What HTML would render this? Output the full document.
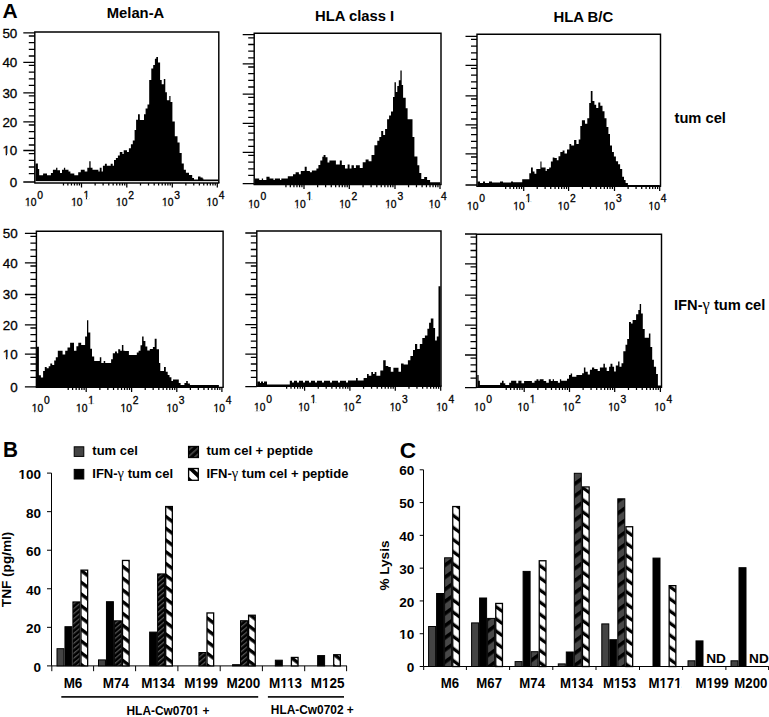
<!DOCTYPE html>
<html><head><meta charset="utf-8"><title>Figure</title>
<style>
html,body{margin:0;padding:0;background:#fff;}
body{width:769px;height:717px;overflow:hidden;font-family:"Liberation Sans",sans-serif;}
svg{display:block;}
text{font-family:"Liberation Sans",sans-serif;}
</style></head><body>
<svg width="769" height="717" viewBox="0 0 769 717">
<rect width="769" height="717" fill="#fff"/>
<polygon points="35.5,181 35.5,163.5 37.9,163.5 37.9,169 39.2,169 39.2,175.3 43.1,175.3 43.1,173.6 47,173.6 47,175.3 50.9,175.3 50.9,172.9 52.9,172.9 52.9,169.7 56.1,169.7 56.1,167.7 57.4,167.7 57.4,170.3 60,170.3 60,172.9 62,172.9 62,169.7 63.9,169.7 63.9,167.7 65.2,167.7 65.2,169.7 68.5,169.7 68.5,171.6 70.4,171.6 70.4,173.6 74.3,173.6 74.3,175.3 78.2,175.3 78.2,172.3 80.8,172.3 80.8,169.7 84.7,169.7 84.7,171.6 87.3,171.6 87.3,167.7 89.3,167.7 89.3,161.2 90.6,161.2 90.6,167.7 92.5,167.7 92.5,169.7 98.4,169.7 98.4,171.6 99.7,171.6 99.7,167.7 101.6,167.7 101.6,171.6 102.9,171.6 102.9,165.8 104.9,165.8 104.9,163.8 106.8,163.8 106.8,165.8 110.7,165.8 110.7,163.8 112.7,163.8 112.7,165.8 114,165.8 114,159.9 115.9,159.9 115.9,158 117.9,158 117.9,155.4 119.8,155.4 119.8,152.1 122.4,152.1 122.4,154.1 123.7,154.1 123.7,150.2 127,150.2 127,152.1 128.9,152.1 128.9,148.2 130.9,148.2 130.9,144.3 132.8,144.3 132.8,140.4 134.6,140.4 134.6,130 136.1,130 136.1,119.8 138,119.8 138,114.2 139.8,114.2 139.8,120.1 144,120.1 144,114.2 145.6,114.2 145.6,108.6 147.5,108.6 147.5,104.4 149.2,104.4 149.2,80.1 151.3,80.1 151.3,68.4 153.2,68.4 153.2,65.1 154.9,65.1 154.9,58.8 156.3,58.8 156.3,57.1 158,57.1 158,62.6 160.1,62.6 160.1,80.1 161.7,80.1 161.7,84.3 163.8,84.3 163.8,78.9 165.3,78.9 165.3,92.3 166.9,92.3 166.9,100.2 169.3,100.2 169.3,96 170.5,96 170.5,101.9 172.4,101.9 172.4,121.6 174.8,121.6 174.8,136.2 177.5,136.2 177.5,142.5 179.6,142.5 179.6,153 181.7,153 181.7,163.4 183.8,163.4 183.8,169.7 185.9,169.7 185.9,172.8 189,172.8 189,175 192.2,175 192.2,178 194,178 194,179.5 198,179.5 198,176.5 200.5,176.5 200.5,177.5 202.6,177.5 202.6,178.5 203.4,178.5 203.4,179.5 218.2,179.5 218.2,181" fill="#000"/>
<rect x="35.4" y="181" width="182.8" height="1" fill="#ddd"/>
<path d="M34.8 183V32H218.8V183" fill="none" stroke="#000" stroke-width="1.45"/>
<path d="M34.2 183H219.4" fill="none" stroke="#000" stroke-width="1.4"/>
<path d="M23.3 32.9H34.8M28.8 36H34.8M28.8 42.7H34.8M28.8 49.4H34.8M28.8 56H34.8M23.3 62.3H34.8M28.8 65.4H34.8M28.8 72.1H34.8M28.8 78.8H34.8M28.8 85.4H34.8M23.3 92.8H34.8M28.8 95.9H34.8M28.8 102.6H34.8M28.8 109.3H34.8M28.8 115.9H34.8M23.3 121.9H34.8M28.8 125H34.8M28.8 131.7H34.8M28.8 138.4H34.8M28.8 145H34.8M23.3 150.5H34.8M28.8 153.6H34.8M28.8 160.3H34.8M28.8 167H34.8M28.8 173.6H34.8M23.3 182H34.8" stroke="#000" stroke-width="1.3"/>
<path d="M63.47 183V185.6M67.86 183V185.6M71.45 183V185.6M74.48 183V185.6M77.11 183V185.6M79.43 183V185.6M81.5 183V187.5M95.14 183V185.6M103.11 183V185.6M108.77 183V185.6M113.16 183V185.6M116.75 183V185.6M119.78 183V185.6M122.41 183V185.6M124.73 183V185.6M126.8 183V187.5M140.5 183V185.6M148.51 183V185.6M154.19 183V185.6M158.6 183V185.6M162.21 183V185.6M165.25 183V185.6M167.89 183V185.6M170.22 183V185.6M172.3 183V187.5M185.85 183V185.6M193.77 183V185.6M199.39 183V185.6M203.75 183V185.6M207.32 183V185.6M210.33 183V185.6M212.94 183V185.6M215.24 183V185.6M217.3 183V187.5" stroke="#000" stroke-width="1.25"/>
<text x="36.5" y="206.3" font-size="10.3" text-anchor="end" stroke="#000" stroke-width="0.3" font-family="Liberation Sans, sans-serif">10</text>
<text x="37.3" y="198.5" font-size="10.3" stroke="#000" stroke-width="0.3" font-family="Liberation Sans, sans-serif">0</text>
<text x="82.6" y="206.3" font-size="10.3" text-anchor="end" stroke="#000" stroke-width="0.3" font-family="Liberation Sans, sans-serif">10</text>
<text x="83.4" y="198.5" font-size="10.3" stroke="#000" stroke-width="0.3" font-family="Liberation Sans, sans-serif">1</text>
<text x="127.5" y="206.3" font-size="10.3" text-anchor="end" stroke="#000" stroke-width="0.3" font-family="Liberation Sans, sans-serif">10</text>
<text x="128.3" y="198.5" font-size="10.3" stroke="#000" stroke-width="0.3" font-family="Liberation Sans, sans-serif">2</text>
<text x="173.5" y="206.3" font-size="10.3" text-anchor="end" stroke="#000" stroke-width="0.3" font-family="Liberation Sans, sans-serif">10</text>
<text x="174.3" y="198.5" font-size="10.3" stroke="#000" stroke-width="0.3" font-family="Liberation Sans, sans-serif">3</text>
<text x="218" y="206.3" font-size="10.3" text-anchor="end" stroke="#000" stroke-width="0.3" font-family="Liberation Sans, sans-serif">10</text>
<text x="218.8" y="198.5" font-size="10.3" stroke="#000" stroke-width="0.3" font-family="Liberation Sans, sans-serif">4</text>
<text x="17.3" y="37.7" font-size="13.4" text-anchor="end" stroke="#000" stroke-width="0.3" font-family="Liberation Sans, sans-serif">50</text>
<text x="17.3" y="67.1" font-size="13.4" text-anchor="end" stroke="#000" stroke-width="0.3" font-family="Liberation Sans, sans-serif">40</text>
<text x="17.3" y="97.6" font-size="13.4" text-anchor="end" stroke="#000" stroke-width="0.3" font-family="Liberation Sans, sans-serif">30</text>
<text x="17.3" y="126.7" font-size="13.4" text-anchor="end" stroke="#000" stroke-width="0.3" font-family="Liberation Sans, sans-serif">20</text>
<text x="17.3" y="155.3" font-size="13.4" text-anchor="end" stroke="#000" stroke-width="0.3" font-family="Liberation Sans, sans-serif">10</text>
<text x="17.3" y="186.8" font-size="13.4" text-anchor="end" stroke="#000" stroke-width="0.3" font-family="Liberation Sans, sans-serif">0</text>
<polygon points="255,184.6 255,178.4 259.2,178.4 259.2,180 261.8,180 261.8,178.4 263.1,178.4 263.1,180 266.4,180 266.4,176.8 269.6,176.8 269.6,178.4 273.5,178.4 273.5,180 274.8,180 274.8,178.4 280,178.4 280,180 281.3,180 281.3,178.4 287.8,178.4 287.8,176.2 293,176.2 293,174.2 295.6,174.2 295.6,172.3 298.9,172.3 298.9,174.2 300.8,174.2 300.8,171 304.7,171 304.7,166.7 306.7,166.7 306.7,171 309.9,171 309.9,172.3 311.9,172.3 311.9,170.6 316.4,170.6 316.4,168.4 318.4,168.4 318.4,164.9 320.3,164.9 320.3,160.6 322.3,160.6 322.3,156.7 323.6,156.7 323.6,155 325.5,155 325.5,157.3 327.5,157.3 327.5,162.5 329.4,162.5 329.4,160.6 335.9,160.6 335.9,164.5 339.8,164.5 339.8,160.6 341.8,160.6 341.8,164.9 345,164.9 345,168.4 347.6,168.4 347.6,164.5 349.6,164.5 349.6,168.4 351.5,168.4 351.5,165.2 353.9,165.2 353.9,168.1 355.9,168.1 355.9,165.2 359.8,165.2 359.8,168.1 362.7,168.1 362.7,162.3 365.6,162.3 365.6,159.4 368.6,159.4 368.6,161.3 371.5,161.3 371.5,155.1 374.4,155.1 374.4,145.3 377.3,145.3 377.3,140.8 379.3,140.8 379.3,136.9 381.2,136.9 381.2,131 383.2,131 383.2,134.9 385.1,134.9 385.1,129.1 387.1,129.1 387.1,119.3 389.1,119.3 389.1,115.4 391,115.4 391,111.5 393,111.5 393,96.9 394.5,96.9 394.5,82.2 395.9,82.2 395.9,92 397.3,92 397.3,86.1 398.8,86.1 398.8,80.3 400.4,80.3 400.4,70.5 401.7,70.5 401.7,85.1 403.1,85.1 403.1,97.8 405.7,97.8 405.7,108.2 407.6,108.2 407.6,119.3 412.5,119.3 412.5,136.9 414.4,136.9 414.4,156.4 417.4,156.4 417.4,165.2 419.3,165.2 419.3,173 421.3,173 421.3,178.9 424.2,178.9 424.2,176.9 427.1,176.9 427.1,179.9 430.1,179.9 430.1,182.3 440.3,182.3 440.3,184.6" fill="#000"/>
<path d="M254.2 184.6V33.2H441V184.6" fill="none" stroke="#000" stroke-width="1.45"/>
<path d="M253.6 184.6H441.6" fill="none" stroke="#000" stroke-width="1.4"/>
<path d="M242.7 34.7H254.2M248.2 37.8H254.2M248.2 44.5H254.2M248.2 51.2H254.2M248.2 57.8H254.2M242.7 63.9H254.2M248.2 67H254.2M248.2 73.7H254.2M248.2 80.4H254.2M248.2 87H254.2M242.7 94.2H254.2M248.2 97.3H254.2M248.2 104H254.2M248.2 110.7H254.2M248.2 117.3H254.2M242.7 123.3H254.2M248.2 126.4H254.2M248.2 133.1H254.2M248.2 139.8H254.2M248.2 146.4H254.2M242.7 152.3H254.2M248.2 155.4H254.2M248.2 162.1H254.2M248.2 168.8H254.2M248.2 175.4H254.2M242.7 183.6H254.2" stroke="#000" stroke-width="1.3"/>
<path d="M285.93 184.6V187.2M290.33 184.6V187.2M293.93 184.6V187.2M296.97 184.6V187.2M299.6 184.6V187.2M301.92 184.6V187.2M304 184.6V189.1M317.64 184.6V187.2M325.61 184.6V187.2M331.27 184.6V187.2M335.66 184.6V187.2M339.25 184.6V187.2M342.28 184.6V187.2M344.91 184.6V187.2M347.23 184.6V187.2M349.3 184.6V189.1M363.06 184.6V187.2M371.1 184.6V187.2M376.81 184.6V187.2M381.24 184.6V187.2M384.86 184.6V187.2M387.92 184.6V187.2M390.57 184.6V187.2M392.91 184.6V187.2M395 184.6V189.1M408.55 184.6V187.2M416.47 184.6V187.2M422.09 184.6V187.2M426.45 184.6V187.2M430.02 184.6V187.2M433.03 184.6V187.2M435.64 184.6V187.2M437.94 184.6V187.2M440 184.6V189.1" stroke="#000" stroke-width="1.25"/>
<text x="259.6" y="207.5" font-size="10.3" text-anchor="end" stroke="#000" stroke-width="0.3" font-family="Liberation Sans, sans-serif">10</text>
<text x="260.4" y="200.3" font-size="10.3" stroke="#000" stroke-width="0.3" font-family="Liberation Sans, sans-serif">0</text>
<text x="305.7" y="207.5" font-size="10.3" text-anchor="end" stroke="#000" stroke-width="0.3" font-family="Liberation Sans, sans-serif">10</text>
<text x="306.5" y="200.3" font-size="10.3" stroke="#000" stroke-width="0.3" font-family="Liberation Sans, sans-serif">1</text>
<text x="350.6" y="207.5" font-size="10.3" text-anchor="end" stroke="#000" stroke-width="0.3" font-family="Liberation Sans, sans-serif">10</text>
<text x="351.4" y="200.3" font-size="10.3" stroke="#000" stroke-width="0.3" font-family="Liberation Sans, sans-serif">2</text>
<text x="396.6" y="207.5" font-size="10.3" text-anchor="end" stroke="#000" stroke-width="0.3" font-family="Liberation Sans, sans-serif">10</text>
<text x="397.4" y="200.3" font-size="10.3" stroke="#000" stroke-width="0.3" font-family="Liberation Sans, sans-serif">3</text>
<text x="440.3" y="207.5" font-size="10.3" text-anchor="end" stroke="#000" stroke-width="0.3" font-family="Liberation Sans, sans-serif">10</text>
<text x="441.1" y="200.3" font-size="10.3" stroke="#000" stroke-width="0.3" font-family="Liberation Sans, sans-serif">4</text>
<polygon points="477.5,186.4 477.5,181.5 480,181.5 480,183 483,183 483,181.5 485,181.5 485,183 489,183 489,181.5 492,181.5 492,182.6 500,182.6 500,181.5 503,181.5 503,182.6 511,182.6 511,181.5 513,181.5 513,182.3 522.2,182.3 522.2,179.3 529.3,179.3 529.3,173.2 531,173.2 531,167.4 532.8,167.4 532.8,171.4 534.5,171.4 534.5,173.8 536.3,173.8 536.3,169.1 540.4,169.1 540.4,161.5 541.5,161.5 541.5,167.4 545.6,167.4 545.6,170.9 546.8,170.9 546.8,169.1 549.2,169.1 549.2,167.4 550.9,167.4 550.9,161.5 552.7,161.5 552.7,157.4 554.4,157.4 554.4,158 556.8,158 556.8,160.3 558.5,160.3 558.5,156.2 560.3,156.2 560.3,152.1 562.6,152.1 562.6,150.4 564.5,150.4 564.5,153.4 567,153.4 567,149.5 569.4,149.5 569.4,144 571.2,144 571.2,145.6 574.1,145.6 574.1,140.1 576.4,140.1 576.4,144 578.7,144 578.7,139.4 580.3,139.4 580.3,126.1 581.9,126.1 581.9,120.3 585,120.3 585,123.7 587.3,123.7 587.3,118.3 589.2,118.3 589.2,103.1 590.8,103.1 590.8,90.9 592.5,90.9 592.5,101.1 594.4,101.1 594.4,104.7 596.2,104.7 596.2,108.1 598.3,108.1 598.3,102.6 600.3,102.6 600.3,105.8 602.5,105.8 602.5,111.2 604.5,111.2 604.5,118.3 606.5,118.3 606.5,126.9 608.4,126.9 608.4,133.9 610,133.9 610,145.6 612,145.6 612,151.9 613.9,151.9 613.9,156.5 615.9,156.5 615.9,161.2 618.1,161.2 618.1,164.3 620.1,164.3 620.1,169 622.2,169 622.2,176.8 624,176.8 624,180 625.6,180 625.6,183.1 627.9,183.1 627.9,185 659.8,185 659.8,186.4" fill="#000"/>
<path d="M477 186.4V34.2H660.5V186.4" fill="none" stroke="#000" stroke-width="1.45"/>
<path d="M476.4 186.4H661.1" fill="none" stroke="#000" stroke-width="1.4"/>
<path d="M465.5 36.3H477M471 39.4H477M471 46.1H477M471 52.8H477M471 59.4H477M465.5 65.3H477M471 68.4H477M471 75.1H477M471 81.8H477M471 88.4H477M465.5 95.9H477M471 99H477M471 105.7H477M471 112.4H477M471 119H477M465.5 124.8H477M471 127.9H477M471 134.6H477M471 141.3H477M471 147.9H477M465.5 153.9H477M471 157H477M471 163.7H477M471 170.4H477M471 177H477M465.5 185H477" stroke="#000" stroke-width="1.3"/>
<path d="M505.67 186.4V189M510.06 186.4V189M513.65 186.4V189M516.68 186.4V189M519.31 186.4V189M521.63 186.4V189M523.7 186.4V190.9M537.22 186.4V189M545.12 186.4V189M550.73 186.4V189M555.08 186.4V189M558.64 186.4V189M561.64 186.4V189M564.25 186.4V189M566.55 186.4V189M568.6 186.4V190.9M582.42 186.4V189M590.5 186.4V189M596.23 186.4V189M600.68 186.4V189M604.32 186.4V189M607.39 186.4V189M610.05 186.4V189M612.4 186.4V189M614.5 186.4V190.9M628.11 186.4V189M636.07 186.4V189M641.71 186.4V189M646.09 186.4V189M649.67 186.4V189M652.7 186.4V189M655.32 186.4V189M657.63 186.4V189M659.7 186.4V190.9" stroke="#000" stroke-width="1.25"/>
<text x="478.5" y="210" font-size="10.3" text-anchor="end" stroke="#000" stroke-width="0.3" font-family="Liberation Sans, sans-serif">10</text>
<text x="479.3" y="202.3" font-size="10.3" stroke="#000" stroke-width="0.3" font-family="Liberation Sans, sans-serif">0</text>
<text x="524.7" y="210" font-size="10.3" text-anchor="end" stroke="#000" stroke-width="0.3" font-family="Liberation Sans, sans-serif">10</text>
<text x="525.5" y="202.3" font-size="10.3" stroke="#000" stroke-width="0.3" font-family="Liberation Sans, sans-serif">1</text>
<text x="569.3" y="210" font-size="10.3" text-anchor="end" stroke="#000" stroke-width="0.3" font-family="Liberation Sans, sans-serif">10</text>
<text x="570.1" y="202.3" font-size="10.3" stroke="#000" stroke-width="0.3" font-family="Liberation Sans, sans-serif">2</text>
<text x="615.1" y="210" font-size="10.3" text-anchor="end" stroke="#000" stroke-width="0.3" font-family="Liberation Sans, sans-serif">10</text>
<text x="615.9" y="202.3" font-size="10.3" stroke="#000" stroke-width="0.3" font-family="Liberation Sans, sans-serif">3</text>
<text x="660" y="210" font-size="10.3" text-anchor="end" stroke="#000" stroke-width="0.3" font-family="Liberation Sans, sans-serif">10</text>
<text x="660.8" y="202.3" font-size="10.3" stroke="#000" stroke-width="0.3" font-family="Liberation Sans, sans-serif">4</text>
<polygon points="37,387.4 37,346.8 38.9,346.8 38.9,375.2 40.9,375.2 40.9,377.4 43.1,377.4 43.1,370.9 44.8,370.9 44.8,367 46.7,367 46.7,368.3 48.7,368.3 48.7,366.3 50.3,366.3 50.3,363.5 52.2,363.5 52.2,365 54.2,365 54.2,360.5 55.8,360.5 55.8,357.2 57.8,357.2 57.8,350.7 62.6,350.7 62.6,354.6 65.2,354.6 65.2,350.7 67.5,350.7 67.5,347.5 70.1,347.5 70.1,342.7 74,342.7 74,350.7 76.4,350.7 76.4,346.2 78.3,346.2 78.3,342.7 81.2,342.7 81.2,344.9 85.1,344.9 85.1,336.4 87,336.4 87,320.2 88.3,320.2 88.3,332.5 90.3,332.5 90.3,348.8 92,348.8 92,356.6 94.2,356.6 94.2,360.9 99.8,360.9 99.8,357.2 101.3,357.2 101.3,363.1 103.7,363.1 103.7,361.1 105.2,361.1 105.2,363.1 111.1,363.1 111.1,359.2 112.8,359.2 112.8,353.3 115,353.3 115,351.4 116.9,351.4 116.9,353.3 118.2,353.3 118.2,349.2 120.2,349.2 120.2,350.7 121.9,350.7 121.9,344.9 123.4,344.9 123.4,350.7 124.7,350.7 124.7,351 128.9,351 128.9,355.1 136.8,355.1 136.8,352.6 138.6,352.6 138.6,350.8 140.5,350.8 140.5,345.2 142.1,345.2 142.1,336.6 143.6,336.6 143.6,340.9 145.4,340.9 145.4,346.4 147.3,346.4 147.3,350.5 149.8,350.5 149.8,348.9 152.9,348.9 152.9,347.1 154.7,347.1 154.7,338.7 156.6,338.7 156.6,349.3 159,349.3 159,363.1 160.3,363.1 160.3,371.1 164,371.1 164,367.1 165.8,367.1 165.8,371.8 167.7,371.8 167.7,374.9 169.5,374.9 169.5,377.3 171.4,377.3 171.4,381 173,381 173,379.4 178.8,379.4 178.8,382.9 180.6,382.9 180.6,385.1 184.4,385.1 184.4,382.9 186.2,382.9 186.2,381 187.8,381 187.8,383.5 189.9,383.5 189.9,385.1 218.9,385.1 218.9,387.4" fill="#000"/>
<path d="M36.4 387.4V231.3H223.1V387.4" fill="none" stroke="#000" stroke-width="1.45"/>
<path d="M35.8 387.4H223.7" fill="none" stroke="#000" stroke-width="1.4"/>
<path d="M24.9 233.3H36.4M30.4 236.4H36.4M30.4 243.1H36.4M30.4 249.8H36.4M30.4 256.4H36.4M24.9 262.9H36.4M30.4 266H36.4M30.4 272.7H36.4M30.4 279.4H36.4M30.4 286H36.4M24.9 294.5H36.4M30.4 297.6H36.4M30.4 304.3H36.4M30.4 311H36.4M30.4 317.6H36.4M24.9 324.9H36.4M30.4 328H36.4M30.4 334.7H36.4M30.4 341.4H36.4M30.4 348H36.4M24.9 354.2H36.4M30.4 357.3H36.4M30.4 364H36.4M30.4 370.7H36.4M30.4 377.3H36.4M24.9 386.9H36.4" stroke="#000" stroke-width="1.3"/>
<path d="M68.21 387.4V390M72.59 387.4V390M76.17 387.4V390M79.2 387.4V390M81.82 387.4V390M84.13 387.4V390M86.2 387.4V391.9M99.87 387.4V390M107.86 387.4V390M113.53 387.4V390M117.93 387.4V390M121.53 387.4V390M124.57 387.4V390M127.2 387.4V390M129.52 387.4V390M131.6 387.4V391.9M145.21 387.4V390M153.17 387.4V390M158.81 387.4V390M163.19 387.4V390M166.77 387.4V390M169.8 387.4V390M172.42 387.4V390M174.73 387.4V390M176.8 387.4V391.9M190.38 387.4V390M198.32 387.4V390M203.95 387.4V390M208.32 387.4V390M211.89 387.4V390M214.91 387.4V390M217.53 387.4V390M219.84 387.4V390M221.9 387.4V391.9" stroke="#000" stroke-width="1.25"/>
<text x="43.2" y="412.2" font-size="10.3" text-anchor="end" stroke="#000" stroke-width="0.3" font-family="Liberation Sans, sans-serif">10</text>
<text x="44" y="404.4" font-size="10.3" stroke="#000" stroke-width="0.3" font-family="Liberation Sans, sans-serif">0</text>
<text x="87.4" y="412.2" font-size="10.3" text-anchor="end" stroke="#000" stroke-width="0.3" font-family="Liberation Sans, sans-serif">10</text>
<text x="88.2" y="404.4" font-size="10.3" stroke="#000" stroke-width="0.3" font-family="Liberation Sans, sans-serif">1</text>
<text x="132" y="412.2" font-size="10.3" text-anchor="end" stroke="#000" stroke-width="0.3" font-family="Liberation Sans, sans-serif">10</text>
<text x="132.8" y="404.4" font-size="10.3" stroke="#000" stroke-width="0.3" font-family="Liberation Sans, sans-serif">2</text>
<text x="178" y="412.2" font-size="10.3" text-anchor="end" stroke="#000" stroke-width="0.3" font-family="Liberation Sans, sans-serif">10</text>
<text x="178.8" y="404.4" font-size="10.3" stroke="#000" stroke-width="0.3" font-family="Liberation Sans, sans-serif">3</text>
<text x="224.9" y="412.2" font-size="10.3" text-anchor="end" stroke="#000" stroke-width="0.3" font-family="Liberation Sans, sans-serif">10</text>
<text x="225.7" y="404.4" font-size="10.3" stroke="#000" stroke-width="0.3" font-family="Liberation Sans, sans-serif">4</text>
<text x="17.6" y="238.1" font-size="13.4" text-anchor="end" stroke="#000" stroke-width="0.3" font-family="Liberation Sans, sans-serif">50</text>
<text x="17.6" y="267.7" font-size="13.4" text-anchor="end" stroke="#000" stroke-width="0.3" font-family="Liberation Sans, sans-serif">40</text>
<text x="17.6" y="299.3" font-size="13.4" text-anchor="end" stroke="#000" stroke-width="0.3" font-family="Liberation Sans, sans-serif">30</text>
<text x="17.6" y="329.7" font-size="13.4" text-anchor="end" stroke="#000" stroke-width="0.3" font-family="Liberation Sans, sans-serif">20</text>
<text x="17.6" y="359" font-size="13.4" text-anchor="end" stroke="#000" stroke-width="0.3" font-family="Liberation Sans, sans-serif">10</text>
<text x="17.6" y="391.7" font-size="13.4" text-anchor="end" stroke="#000" stroke-width="0.3" font-family="Liberation Sans, sans-serif">0</text>
<polygon points="257.3,386.2 257.3,381.4 260,381.4 260,383 261,383 261,381.4 263,381.4 263,383 264,383 264,381.4 267,381.4 267,384.5 289.8,384.5 289.8,380.7 292,380.7 292,382.5 294,382.5 294,380.7 297,380.7 297,382.5 299,382.5 299,380.7 303,380.7 303,382.5 305,382.5 305,380.7 309,380.7 309,382.5 311,382.5 311,380.7 315,380.7 315,382.5 317,382.5 317,380.7 322,380.7 322,382.5 324,382.5 324,380.7 330,380.7 330,382.5 332,382.5 332,380.7 338,380.7 338,382.5 340,382.5 340,380.7 346,380.7 346,382.5 348,382.5 348,380.6 356,380.6 356,378 357.7,378 357.7,380.6 363.6,380.6 363.6,378 367,378 367,374.1 368.7,374.1 368.7,375.8 371.3,375.8 371.3,372.1 373,372.1 373,374.1 374.7,374.1 374.7,372.1 376.4,372.1 376.4,375.8 380.3,375.8 380.3,370.4 383.2,370.4 383.2,360.2 385.7,360.2 385.7,366.1 388.3,366.1 388.3,367 390.8,367 390.8,371.8 393.4,371.8 393.4,367.8 398.5,367.8 398.5,371.8 401,371.8 401,363.6 403.6,363.6 403.6,364.4 407.9,364.4 407.9,360.2 410.4,360.2 410.4,355.9 413,355.9 413,350 415,350 415,344 417.2,344 417.2,349.1 419.8,349.1 419.8,344 422.3,344 422.3,338.1 424.9,338.1 424.9,335.5 427.4,335.5 427.4,328.7 429.1,328.7 429.1,322.7 430.8,322.7 430.8,318.5 433.4,318.5 433.4,327.9 435.1,327.9 435.1,340.6 436.8,340.6 436.8,336.4 438.5,336.4 438.5,286.2 440.5,286.2 440.5,386.2" fill="#000"/>
<path d="M256.8 386.2V231H441V386.2" fill="none" stroke="#000" stroke-width="1.45"/>
<path d="M256.2 386.2H441.6" fill="none" stroke="#000" stroke-width="1.4"/>
<path d="M245.3 233H256.8M250.8 236.1H256.8M250.8 242.8H256.8M250.8 249.5H256.8M250.8 256.1H256.8M245.3 262.9H256.8M250.8 266H256.8M250.8 272.7H256.8M250.8 279.4H256.8M250.8 286H256.8M245.3 294.5H256.8M250.8 297.6H256.8M250.8 304.3H256.8M250.8 311H256.8M250.8 317.6H256.8M245.3 324.6H256.8M250.8 327.7H256.8M250.8 334.4H256.8M250.8 341.1H256.8M250.8 347.7H256.8M245.3 354.2H256.8M250.8 357.3H256.8M250.8 364H256.8M250.8 370.7H256.8M250.8 377.3H256.8M245.3 386.7H256.8" stroke="#000" stroke-width="1.3"/>
<path d="M286.65 386.2V388.8M291.02 386.2V388.8M294.59 386.2V388.8M297.61 386.2V388.8M300.23 386.2V388.8M302.54 386.2V388.8M304.6 386.2V390.7M318.24 386.2V388.8M326.21 386.2V388.8M331.87 386.2V388.8M336.26 386.2V388.8M339.85 386.2V388.8M342.88 386.2V388.8M345.51 386.2V388.8M347.83 386.2V388.8M349.9 386.2V390.7M363.57 386.2V388.8M371.56 386.2V388.8M377.23 386.2V388.8M381.63 386.2V388.8M385.23 386.2V388.8M388.27 386.2V388.8M390.9 386.2V388.8M393.22 386.2V388.8M395.3 386.2V390.7M408.97 386.2V388.8M416.96 386.2V388.8M422.63 386.2V388.8M427.03 386.2V388.8M430.63 386.2V388.8M433.67 386.2V388.8M436.3 386.2V388.8M438.62 386.2V388.8M440.7 386.2V390.7" stroke="#000" stroke-width="1.25"/>
<text x="265.4" y="410.5" font-size="10.3" text-anchor="end" stroke="#000" stroke-width="0.3" font-family="Liberation Sans, sans-serif">10</text>
<text x="266.2" y="403.3" font-size="10.3" stroke="#000" stroke-width="0.3" font-family="Liberation Sans, sans-serif">0</text>
<text x="309.6" y="410.5" font-size="10.3" text-anchor="end" stroke="#000" stroke-width="0.3" font-family="Liberation Sans, sans-serif">10</text>
<text x="310.4" y="403.3" font-size="10.3" stroke="#000" stroke-width="0.3" font-family="Liberation Sans, sans-serif">1</text>
<text x="354.6" y="410.5" font-size="10.3" text-anchor="end" stroke="#000" stroke-width="0.3" font-family="Liberation Sans, sans-serif">10</text>
<text x="355.4" y="403.3" font-size="10.3" stroke="#000" stroke-width="0.3" font-family="Liberation Sans, sans-serif">2</text>
<text x="401.1" y="410.5" font-size="10.3" text-anchor="end" stroke="#000" stroke-width="0.3" font-family="Liberation Sans, sans-serif">10</text>
<text x="401.9" y="403.3" font-size="10.3" stroke="#000" stroke-width="0.3" font-family="Liberation Sans, sans-serif">3</text>
<text x="447.6" y="410.5" font-size="10.3" text-anchor="end" stroke="#000" stroke-width="0.3" font-family="Liberation Sans, sans-serif">10</text>
<text x="448.4" y="403.3" font-size="10.3" stroke="#000" stroke-width="0.3" font-family="Liberation Sans, sans-serif">4</text>
<polygon points="477.3,387.4 477.3,374.9 478.6,374.9 478.6,380.7 479.9,380.7 479.9,384.9 500.1,384.9 500.1,382.7 502,382.7 502,380.7 503.6,380.7 503.6,383.3 505.3,383.3 505.3,384.9 509.2,384.9 509.2,382.7 511.1,382.7 511.1,380.7 516.3,380.7 516.3,383.3 518.3,383.3 518.3,380.7 521.5,380.7 521.5,383.3 524.1,383.3 524.1,381 531.9,381 531.9,382.7 534.5,382.7 534.5,380.7 536.5,380.7 536.5,379.2 538.4,379.2 538.4,380.7 539.7,380.7 539.7,379.2 543.6,379.2 543.6,381 546.2,381 546.2,382.7 548.8,382.7 548.8,379.2 550.8,379.2 550.8,381 552.7,381 552.7,379.2 554,379.2 554,381 557.9,381 557.9,382.7 559.9,382.7 559.9,379.2 561.2,379.2 561.2,380.7 567,380.7 567,378.8 569,378.8 569,374.9 570.7,374.9 570.7,373.4 572.1,373.4 572.1,376.8 576.4,376.8 576.4,375.1 582.1,375.1 582.1,373.2 583.9,373.2 583.9,367.5 585.4,367.5 585.4,371.8 587.8,371.8 587.8,374.6 589.9,374.6 589.9,369.7 592,369.7 592,367.5 594.2,367.5 594.2,368.9 597.7,368.9 597.7,371.1 599.9,371.1 599.9,367.5 603.4,367.5 603.4,363.7 604.9,363.7 604.9,367.5 606.7,367.5 606.7,371.1 609.1,371.1 609.1,366.8 610.5,366.8 610.5,363.7 612.4,363.7 612.4,366.8 614.1,366.8 614.1,371.4 615.8,371.4 615.8,365.4 618.1,365.4 618.1,361.4 619.5,361.4 619.5,366.8 621.5,366.8 621.5,363.3 623.3,363.3 623.3,351.2 625.5,351.2 625.5,344.8 627.2,344.8 627.2,339.1 629,339.1 629,322 630.9,322 630.9,323.4 632.6,323.4 632.6,319.9 636.1,319.9 636.1,314.2 638.3,314.2 638.3,309.9 639.7,309.9 639.7,303.9 641.1,303.9 641.1,313.5 642.8,313.5 642.8,329.1 644.7,329.1 644.7,337.7 648.9,337.7 648.9,333.4 650.4,333.4 650.4,346.9 652.2,346.9 652.2,359.7 653.9,359.7 653.9,366.8 656.1,366.8 656.1,373.9 657.9,373.9 657.9,385.5 661,385.5 661,387.4" fill="#000"/>
<path d="M476.5 387.4V234.3H661.5V387.4" fill="none" stroke="#000" stroke-width="1.45"/>
<path d="M475.9 387.4H662.1" fill="none" stroke="#000" stroke-width="1.4"/>
<path d="M465 234H476.5M470.5 237.1H476.5M470.5 243.8H476.5M470.5 250.5H476.5M470.5 257.1H476.5M465 263.8H476.5M470.5 266.9H476.5M470.5 273.6H476.5M470.5 280.3H476.5M470.5 286.9H476.5M465 295.1H476.5M470.5 298.2H476.5M470.5 304.9H476.5M470.5 311.6H476.5M470.5 318.2H476.5M465 325.2H476.5M470.5 328.3H476.5M470.5 335H476.5M470.5 341.7H476.5M470.5 348.3H476.5M465 355H476.5M470.5 358.1H476.5M470.5 364.8H476.5M470.5 371.5H476.5M470.5 378.1H476.5M465 387.7H476.5" stroke="#000" stroke-width="1.3"/>
<path d="M506.21 387.4V390M510.59 387.4V390M514.17 387.4V390M517.2 387.4V390M519.82 387.4V390M522.13 387.4V390M524.2 387.4V391.9M537.84 387.4V390M545.81 387.4V390M551.47 387.4V390M555.86 387.4V390M559.45 387.4V390M562.48 387.4V390M565.11 387.4V390M567.43 387.4V390M569.5 387.4V391.9M583.11 387.4V390M591.07 387.4V390M596.71 387.4V390M601.09 387.4V390M604.67 387.4V390M607.7 387.4V390M610.32 387.4V390M612.63 387.4V390M614.7 387.4V391.9M628.46 387.4V390M636.5 387.4V390M642.21 387.4V390M646.64 387.4V390M650.26 387.4V390M653.32 387.4V390M655.97 387.4V390M658.31 387.4V390M660.4 387.4V391.9" stroke="#000" stroke-width="1.25"/>
<text x="485.4" y="410.9" font-size="10.3" text-anchor="end" stroke="#000" stroke-width="0.3" font-family="Liberation Sans, sans-serif">10</text>
<text x="486.2" y="403.3" font-size="10.3" stroke="#000" stroke-width="0.3" font-family="Liberation Sans, sans-serif">0</text>
<text x="529" y="410.9" font-size="10.3" text-anchor="end" stroke="#000" stroke-width="0.3" font-family="Liberation Sans, sans-serif">10</text>
<text x="529.8" y="403.3" font-size="10.3" stroke="#000" stroke-width="0.3" font-family="Liberation Sans, sans-serif">1</text>
<text x="574.3" y="410.9" font-size="10.3" text-anchor="end" stroke="#000" stroke-width="0.3" font-family="Liberation Sans, sans-serif">10</text>
<text x="575.1" y="403.3" font-size="10.3" stroke="#000" stroke-width="0.3" font-family="Liberation Sans, sans-serif">2</text>
<text x="619.6" y="410.9" font-size="10.3" text-anchor="end" stroke="#000" stroke-width="0.3" font-family="Liberation Sans, sans-serif">10</text>
<text x="620.4" y="403.3" font-size="10.3" stroke="#000" stroke-width="0.3" font-family="Liberation Sans, sans-serif">3</text>
<text x="665.6" y="410.9" font-size="10.3" text-anchor="end" stroke="#000" stroke-width="0.3" font-family="Liberation Sans, sans-serif">10</text>
<text x="666.4" y="403.3" font-size="10.3" stroke="#000" stroke-width="0.3" font-family="Liberation Sans, sans-serif">4</text>
<text x="2.4" y="17.7" font-size="21" font-weight="bold" font-family="Liberation Sans, sans-serif">A</text>
<text x="135.5" y="18.3" font-size="14.8" font-weight="bold" text-anchor="middle" font-family="Liberation Sans, sans-serif">Melan-A</text>
<text x="354.6" y="21.1" font-size="14.8" font-weight="bold" text-anchor="middle" font-family="Liberation Sans, sans-serif">HLA class I</text>
<text x="583.3" y="22.1" font-size="14.9" font-weight="bold" text-anchor="middle" font-family="Liberation Sans, sans-serif">HLA B/C</text>
<text x="674.5" y="123" font-size="14.7" font-weight="bold" font-family="Liberation Sans, sans-serif">tum cel</text>
<text x="674" y="309.8" font-size="14.7" font-weight="bold" font-family="Liberation Sans, sans-serif">IFN-<tspan font-weight="normal" style="font-family:'Liberation Serif',serif;font-size:1.12em">&#947;</tspan> tum cel</text>
<defs>
<pattern id="hwB" patternUnits="userSpaceOnUse" width="30" height="9.4" patternTransform="rotate(36.87)">
<rect width="30" height="9.4" fill="#fff"/><rect y="1.9" width="30" height="3.4" fill="#000"/></pattern>
<pattern id="hwC" patternUnits="userSpaceOnUse" width="30" height="9.82" patternTransform="rotate(35.75)">
<rect width="30" height="9.82" fill="#fff"/><rect y="4.6" width="30" height="3.3" fill="#000"/></pattern>
<pattern id="hdB" patternUnits="userSpaceOnUse" width="30" height="3.8" patternTransform="rotate(-40)">
<rect width="30" height="3.8" fill="#000"/><rect width="30" height="1.25" fill="#555"/></pattern>
<pattern id="hdC" patternUnits="userSpaceOnUse" width="30" height="9.82" patternTransform="rotate(-35.75)">
<rect width="30" height="9.82" fill="#484848"/><rect width="30" height="3.6" fill="#000"/></pattern>
<pattern id="hdL" patternUnits="userSpaceOnUse" width="20" height="4.6" patternTransform="rotate(-42)">
<rect width="20" height="4.6" fill="#000"/><rect width="20" height="1.6" fill="#444"/></pattern>
</defs>
<text transform="translate(3.1 456.9) scale(0.93 1.03)" font-size="22.3" font-weight="bold" font-family="Liberation Sans, sans-serif">B</text>
<rect x="74.2" y="446.8" width="9.6" height="9.6" fill="#444" stroke="#000" stroke-width="1"/>
<rect x="74.2" y="469.4" width="9.6" height="9.6" fill="#000" stroke="#000" stroke-width="1"/>
<rect x="188.5" y="446.4" width="10" height="11.2" fill="url(#hdL)" stroke="#000" stroke-width="1.1"/>
<rect x="188.6" y="468.5" width="9.7" height="11.8" fill="#fff" stroke="#000" stroke-width="1.3"/>
<polygon points="188.6,468.5 193.2,468.5 198.3,473 198.3,478.6 189.9,470.6 188.6,470.6" fill="#000"/>
<polygon points="188.6,476.6 188.6,480.3 192.6,480.3" fill="#000"/>
<text x="92.3" y="454.9" font-size="13" font-weight="bold" font-family="Liberation Sans, sans-serif">tum cel</text>
<text x="92.3" y="478.0" font-size="13" font-weight="bold" font-family="Liberation Sans, sans-serif">IFN-<tspan font-weight="normal" style="font-family:'Liberation Serif',serif;font-size:1.12em">&#947;</tspan> tum cel</text>
<text x="206.5" y="454.9" font-size="13" font-weight="bold" font-family="Liberation Sans, sans-serif">tum cel + peptide</text>
<text x="206.5" y="478.0" font-size="13" font-weight="bold" font-family="Liberation Sans, sans-serif">IFN-<tspan font-weight="normal" style="font-family:'Liberation Serif',serif;font-size:1.12em">&#947;</tspan> tum cel + peptide</text>
<path d="M51.5 473.1V665.9H346.9" fill="none" stroke="#000" stroke-width="1"/>
<path d="M47 665.9H51.5M47 627.34H51.5M47 588.78H51.5M47 550.22H51.5M47 511.66H51.5M47 473.1H51.5M51.8 665.9V671.2M93.6 665.9V671.2M135.6 665.9V671.2M177.9 665.9V671.2M220.2 665.9V671.2M262.4 665.9V671.2M304.7 665.9V671.2M346.6 665.9V671.2" stroke="#000" stroke-width="1"/>
<text x="41" y="671.8" font-size="13.5" font-weight="bold" text-anchor="end" font-family="Liberation Sans, sans-serif">0</text>
<text x="41" y="633.24" font-size="13.5" font-weight="bold" text-anchor="end" font-family="Liberation Sans, sans-serif">20</text>
<text x="41" y="594.68" font-size="13.5" font-weight="bold" text-anchor="end" font-family="Liberation Sans, sans-serif">40</text>
<text x="41" y="556.12" font-size="13.5" font-weight="bold" text-anchor="end" font-family="Liberation Sans, sans-serif">60</text>
<text x="41" y="517.56" font-size="13.5" font-weight="bold" text-anchor="end" font-family="Liberation Sans, sans-serif">80</text>
<text x="41" y="479" font-size="13.5" font-weight="bold" text-anchor="end" font-family="Liberation Sans, sans-serif">100</text>
<text transform="translate(11.1 569.4) rotate(-90)" font-size="13.6" font-weight="bold" text-anchor="middle" font-family="Liberation Sans, sans-serif">TNF (pg/ml)</text>
<rect x="57" y="648.7" width="6.95" height="17.2" fill="#444" stroke="#000" stroke-width="1.0"/>
<rect x="64.95" y="626.7" width="6.95" height="39.2" fill="#000" stroke="#000" stroke-width="1.0"/>
<rect x="72.9" y="601.9" width="6.95" height="64" fill="url(#hdB)" stroke="#000" stroke-width="1.0"/>
<rect x="81" y="570.15" width="6.65" height="95.75" fill="url(#hwB)" stroke="#000" stroke-width="1.3"/>
<rect x="98.5" y="659.9" width="6.95" height="6" fill="#444" stroke="#000" stroke-width="1.0"/>
<rect x="106.45" y="601.7" width="6.95" height="64.2" fill="#000" stroke="#000" stroke-width="1.0"/>
<rect x="114.4" y="620.8" width="6.95" height="45.1" fill="url(#hdB)" stroke="#000" stroke-width="1.0"/>
<rect x="122.5" y="560.45" width="6.65" height="105.45" fill="url(#hwB)" stroke="#000" stroke-width="1.3"/>
<rect x="149.65" y="632.1" width="6.95" height="33.8" fill="#000" stroke="#000" stroke-width="1.0"/>
<rect x="157.6" y="573.9" width="6.95" height="92" fill="url(#hdB)" stroke="#000" stroke-width="1.0"/>
<rect x="165.7" y="506.55" width="6.65" height="159.35" fill="url(#hwB)" stroke="#000" stroke-width="1.3"/>
<rect x="198.9" y="652.5" width="6.95" height="13.4" fill="url(#hdB)" stroke="#000" stroke-width="1.0"/>
<rect x="207" y="612.95" width="6.65" height="52.95" fill="url(#hwB)" stroke="#000" stroke-width="1.3"/>
<rect x="232.55" y="664.7" width="6.95" height="1.2" fill="#000" stroke="#000" stroke-width="1.0"/>
<rect x="240.5" y="620.7" width="6.95" height="45.2" fill="url(#hdB)" stroke="#000" stroke-width="1.0"/>
<rect x="248.6" y="615.25" width="6.65" height="50.65" fill="url(#hwB)" stroke="#000" stroke-width="1.3"/>
<rect x="275.35" y="660.2" width="6.95" height="5.7" fill="#000" stroke="#000" stroke-width="1.0"/>
<rect x="291.4" y="657.45" width="6.65" height="8.45" fill="url(#hwB)" stroke="#000" stroke-width="1.3"/>
<rect x="317.65" y="655.6" width="6.95" height="10.3" fill="#000" stroke="#000" stroke-width="1.0"/>
<rect x="333.7" y="654.75" width="6.65" height="11.15" fill="url(#hwB)" stroke="#000" stroke-width="1.3"/>
<text transform="translate(73 687.9) scale(1 1.07)" font-size="13.5" font-weight="bold" text-anchor="middle" font-family="Liberation Sans, sans-serif">M6</text>
<text transform="translate(116 687.9) scale(1 1.07)" font-size="13.5" font-weight="bold" text-anchor="middle" font-family="Liberation Sans, sans-serif">M74</text>
<text transform="translate(158 687.9) scale(1 1.07)" font-size="13.5" font-weight="bold" text-anchor="middle" font-family="Liberation Sans, sans-serif">M134</text>
<text transform="translate(201.2 687.9) scale(1 1.07)" font-size="13.5" font-weight="bold" text-anchor="middle" font-family="Liberation Sans, sans-serif">M199</text>
<text transform="translate(243.3 687.9) scale(1 1.07)" font-size="13.5" font-weight="bold" text-anchor="middle" font-family="Liberation Sans, sans-serif">M200</text>
<text transform="translate(285.4 687.9) scale(1 1.07)" font-size="13.5" font-weight="bold" text-anchor="middle" font-family="Liberation Sans, sans-serif">M113</text>
<text transform="translate(327.6 687.9) scale(1 1.07)" font-size="13.5" font-weight="bold" text-anchor="middle" font-family="Liberation Sans, sans-serif">M125</text>
<rect x="61.3" y="696.1" width="196.9" height="1.6" fill="#000"/><rect x="267.9" y="696.1" width="76.1" height="1.6" fill="#000"/>
<text x="168" y="714.9" font-size="11.9" font-weight="bold" text-anchor="middle" font-family="Liberation Sans, sans-serif">HLA-Cw0701 +</text>
<text x="312.3" y="713.9" font-size="11.9" font-weight="bold" text-anchor="middle" font-family="Liberation Sans, sans-serif">HLA-Cw0702 +</text>
<text x="399.7" y="458" font-size="22.6" font-weight="bold" font-family="Liberation Sans, sans-serif">C</text>
<path d="M423.5 469.8V666.5H768.8" fill="none" stroke="#000" stroke-width="1"/>
<path d="M419.7 666.5H423.5M419.7 633.72H423.5M419.7 600.93H423.5M419.7 568.15H423.5M419.7 535.37H423.5M419.7 502.58H423.5M419.7 469.8H423.5M423.7 666.5V670M466.4 666.5V670M509.6 666.5V670M552.8 666.5V670M596 666.5V670M639.5 666.5V670M682.6 666.5V670M725.9 666.5V670M768.6 666.5V670" stroke="#000" stroke-width="1"/>
<text x="414.4" y="672.1" font-size="13.6" font-weight="bold" text-anchor="end" font-family="Liberation Sans, sans-serif">0</text>
<text x="414.4" y="639.32" font-size="13.6" font-weight="bold" text-anchor="end" font-family="Liberation Sans, sans-serif">10</text>
<text x="414.4" y="606.53" font-size="13.6" font-weight="bold" text-anchor="end" font-family="Liberation Sans, sans-serif">20</text>
<text x="414.4" y="573.75" font-size="13.6" font-weight="bold" text-anchor="end" font-family="Liberation Sans, sans-serif">30</text>
<text x="414.4" y="540.97" font-size="13.6" font-weight="bold" text-anchor="end" font-family="Liberation Sans, sans-serif">40</text>
<text x="414.4" y="508.18" font-size="13.6" font-weight="bold" text-anchor="end" font-family="Liberation Sans, sans-serif">50</text>
<text x="414.4" y="475.4" font-size="13.6" font-weight="bold" text-anchor="end" font-family="Liberation Sans, sans-serif">60</text>
<text transform="translate(389.1 565.5) rotate(-90)" font-size="13.5" font-weight="bold" text-anchor="middle" font-family="Liberation Sans, sans-serif">% Lysis</text>
<rect x="428.6" y="626.5" width="7" height="40" fill="#444" stroke="#000" stroke-width="1.0"/>
<rect x="436.6" y="593.5" width="7" height="73" fill="#000" stroke="#000" stroke-width="1.0"/>
<rect x="444.6" y="557.8" width="7" height="108.7" fill="url(#hdC)" stroke="#000" stroke-width="1.0"/>
<rect x="452.75" y="506.55" width="6.7" height="159.95" fill="url(#hwC)" stroke="#000" stroke-width="1.3"/>
<rect x="471.6" y="622.9" width="7" height="43.6" fill="#444" stroke="#000" stroke-width="1.0"/>
<rect x="479.6" y="598" width="7" height="68.5" fill="#000" stroke="#000" stroke-width="1.0"/>
<rect x="487.6" y="618.4" width="7" height="48.1" fill="url(#hdC)" stroke="#000" stroke-width="1.0"/>
<rect x="495.75" y="603.45" width="6.7" height="63.05" fill="url(#hwC)" stroke="#000" stroke-width="1.3"/>
<rect x="515.1" y="661.6" width="7" height="4.9" fill="#444" stroke="#000" stroke-width="1.0"/>
<rect x="523.1" y="571.4" width="7" height="95.1" fill="#000" stroke="#000" stroke-width="1.0"/>
<rect x="531.1" y="651.7" width="7" height="14.8" fill="url(#hdC)" stroke="#000" stroke-width="1.0"/>
<rect x="539.25" y="560.75" width="6.7" height="105.75" fill="url(#hwC)" stroke="#000" stroke-width="1.3"/>
<rect x="558.3" y="663.9" width="7" height="2.6" fill="#444" stroke="#000" stroke-width="1.0"/>
<rect x="566.3" y="652" width="7" height="14.5" fill="#000" stroke="#000" stroke-width="1.0"/>
<rect x="574.3" y="473.3" width="7" height="193.2" fill="url(#hdC)" stroke="#000" stroke-width="1.0"/>
<rect x="582.45" y="486.95" width="6.7" height="179.55" fill="url(#hwC)" stroke="#000" stroke-width="1.3"/>
<rect x="601.8" y="623.9" width="7" height="42.6" fill="#444" stroke="#000" stroke-width="1.0"/>
<rect x="609.8" y="639.7" width="7" height="26.8" fill="#000" stroke="#000" stroke-width="1.0"/>
<rect x="617.8" y="498.8" width="7" height="167.7" fill="url(#hdC)" stroke="#000" stroke-width="1.0"/>
<rect x="625.95" y="526.75" width="6.7" height="139.75" fill="url(#hwC)" stroke="#000" stroke-width="1.3"/>
<rect x="653" y="558.1" width="7" height="108.4" fill="#000" stroke="#000" stroke-width="1.0"/>
<rect x="669.15" y="585.65" width="6.7" height="80.85" fill="url(#hwC)" stroke="#000" stroke-width="1.3"/>
<rect x="688" y="660.8" width="7" height="5.7" fill="#444" stroke="#000" stroke-width="1.0"/>
<rect x="696" y="640.9" width="7" height="25.6" fill="#000" stroke="#000" stroke-width="1.0"/>
<rect x="731" y="660.8" width="7" height="5.7" fill="#444" stroke="#000" stroke-width="1.0"/>
<rect x="739" y="567.7" width="7" height="98.8" fill="#000" stroke="#000" stroke-width="1.0"/>
<text x="706.2" y="663.1" font-size="13.6" font-weight="bold" font-family="Liberation Sans, sans-serif">ND</text>
<text x="749.1" y="663.1" font-size="13.6" font-weight="bold" font-family="Liberation Sans, sans-serif">ND</text>
<text transform="translate(450 687.5) scale(0.98 1.1)" font-size="13.5" font-weight="bold" text-anchor="middle" font-family="Liberation Sans, sans-serif">M6</text>
<text transform="translate(489.2 687.5) scale(0.98 1.1)" font-size="13.5" font-weight="bold" text-anchor="middle" font-family="Liberation Sans, sans-serif">M67</text>
<text transform="translate(532.2 687.5) scale(0.98 1.1)" font-size="13.5" font-weight="bold" text-anchor="middle" font-family="Liberation Sans, sans-serif">M74</text>
<text transform="translate(576.5 687.5) scale(0.98 1.1)" font-size="13.5" font-weight="bold" text-anchor="middle" font-family="Liberation Sans, sans-serif">M134</text>
<text transform="translate(619.5 687.5) scale(0.98 1.1)" font-size="13.5" font-weight="bold" text-anchor="middle" font-family="Liberation Sans, sans-serif">M153</text>
<text transform="translate(665 687.5) scale(0.98 1.1)" font-size="13.5" font-weight="bold" text-anchor="middle" font-family="Liberation Sans, sans-serif">M171</text>
<text transform="translate(712 687.5) scale(0.98 1.1)" font-size="13.5" font-weight="bold" text-anchor="middle" font-family="Liberation Sans, sans-serif">M199</text>
<text transform="translate(750.8 687.5) scale(0.98 1.1)" font-size="13.5" font-weight="bold" text-anchor="middle" font-family="Liberation Sans, sans-serif">M200</text>
<rect x="25.04" y="205.17" width="2.54" height="2.33" fill="#fff"/>
<rect x="28.58" y="205.17" width="2.34" height="2.33" fill="#fff"/>
<rect x="71.14" y="205.17" width="2.54" height="2.33" fill="#fff"/>
<rect x="74.68" y="205.17" width="2.34" height="2.33" fill="#fff"/>
<rect x="83.40" y="197.37" width="2.54" height="2.33" fill="#fff"/>
<rect x="86.93" y="197.37" width="2.34" height="2.33" fill="#fff"/>
<rect x="116.04" y="205.17" width="2.54" height="2.33" fill="#fff"/>
<rect x="119.58" y="205.17" width="2.34" height="2.33" fill="#fff"/>
<rect x="162.04" y="205.17" width="2.54" height="2.33" fill="#fff"/>
<rect x="165.58" y="205.17" width="2.34" height="2.33" fill="#fff"/>
<rect x="206.54" y="205.17" width="2.54" height="2.33" fill="#fff"/>
<rect x="210.08" y="205.17" width="2.34" height="2.33" fill="#fff"/>
<rect x="2.40" y="153.83" width="3.31" height="2.67" fill="#fff"/>
<rect x="6.99" y="153.83" width="3.04" height="2.67" fill="#fff"/>
<rect x="248.14" y="206.37" width="2.54" height="2.33" fill="#fff"/>
<rect x="251.68" y="206.37" width="2.34" height="2.33" fill="#fff"/>
<rect x="294.24" y="206.37" width="2.54" height="2.33" fill="#fff"/>
<rect x="297.78" y="206.37" width="2.34" height="2.33" fill="#fff"/>
<rect x="306.50" y="199.17" width="2.54" height="2.33" fill="#fff"/>
<rect x="310.03" y="199.17" width="2.34" height="2.33" fill="#fff"/>
<rect x="339.14" y="206.37" width="2.54" height="2.33" fill="#fff"/>
<rect x="342.68" y="206.37" width="2.34" height="2.33" fill="#fff"/>
<rect x="385.14" y="206.37" width="2.54" height="2.33" fill="#fff"/>
<rect x="388.68" y="206.37" width="2.34" height="2.33" fill="#fff"/>
<rect x="428.84" y="206.37" width="2.54" height="2.33" fill="#fff"/>
<rect x="432.38" y="206.37" width="2.34" height="2.33" fill="#fff"/>
<rect x="467.04" y="208.87" width="2.54" height="2.33" fill="#fff"/>
<rect x="470.58" y="208.87" width="2.34" height="2.33" fill="#fff"/>
<rect x="513.24" y="208.87" width="2.54" height="2.33" fill="#fff"/>
<rect x="516.78" y="208.87" width="2.34" height="2.33" fill="#fff"/>
<rect x="525.50" y="201.17" width="2.54" height="2.33" fill="#fff"/>
<rect x="529.03" y="201.17" width="2.34" height="2.33" fill="#fff"/>
<rect x="557.84" y="208.87" width="2.54" height="2.33" fill="#fff"/>
<rect x="561.38" y="208.87" width="2.34" height="2.33" fill="#fff"/>
<rect x="603.64" y="208.87" width="2.54" height="2.33" fill="#fff"/>
<rect x="607.18" y="208.87" width="2.34" height="2.33" fill="#fff"/>
<rect x="648.54" y="208.87" width="2.54" height="2.33" fill="#fff"/>
<rect x="652.08" y="208.87" width="2.34" height="2.33" fill="#fff"/>
<rect x="31.74" y="411.07" width="2.54" height="2.33" fill="#fff"/>
<rect x="35.28" y="411.07" width="2.34" height="2.33" fill="#fff"/>
<rect x="75.94" y="411.07" width="2.54" height="2.33" fill="#fff"/>
<rect x="79.48" y="411.07" width="2.34" height="2.33" fill="#fff"/>
<rect x="88.20" y="403.27" width="2.54" height="2.33" fill="#fff"/>
<rect x="91.73" y="403.27" width="2.34" height="2.33" fill="#fff"/>
<rect x="120.54" y="411.07" width="2.54" height="2.33" fill="#fff"/>
<rect x="124.08" y="411.07" width="2.34" height="2.33" fill="#fff"/>
<rect x="166.54" y="411.07" width="2.54" height="2.33" fill="#fff"/>
<rect x="170.08" y="411.07" width="2.34" height="2.33" fill="#fff"/>
<rect x="213.44" y="411.07" width="2.54" height="2.33" fill="#fff"/>
<rect x="216.98" y="411.07" width="2.34" height="2.33" fill="#fff"/>
<rect x="2.70" y="357.53" width="3.31" height="2.67" fill="#fff"/>
<rect x="7.29" y="357.53" width="3.04" height="2.67" fill="#fff"/>
<rect x="253.94" y="409.37" width="2.54" height="2.33" fill="#fff"/>
<rect x="257.48" y="409.37" width="2.34" height="2.33" fill="#fff"/>
<rect x="298.14" y="409.37" width="2.54" height="2.33" fill="#fff"/>
<rect x="301.68" y="409.37" width="2.34" height="2.33" fill="#fff"/>
<rect x="310.40" y="402.17" width="2.54" height="2.33" fill="#fff"/>
<rect x="313.93" y="402.17" width="2.34" height="2.33" fill="#fff"/>
<rect x="343.14" y="409.37" width="2.54" height="2.33" fill="#fff"/>
<rect x="346.68" y="409.37" width="2.34" height="2.33" fill="#fff"/>
<rect x="389.64" y="409.37" width="2.54" height="2.33" fill="#fff"/>
<rect x="393.18" y="409.37" width="2.34" height="2.33" fill="#fff"/>
<rect x="436.14" y="409.37" width="2.54" height="2.33" fill="#fff"/>
<rect x="439.68" y="409.37" width="2.34" height="2.33" fill="#fff"/>
<rect x="473.94" y="409.77" width="2.54" height="2.33" fill="#fff"/>
<rect x="477.48" y="409.77" width="2.34" height="2.33" fill="#fff"/>
<rect x="517.54" y="409.77" width="2.54" height="2.33" fill="#fff"/>
<rect x="521.08" y="409.77" width="2.34" height="2.33" fill="#fff"/>
<rect x="529.80" y="402.17" width="2.54" height="2.33" fill="#fff"/>
<rect x="533.33" y="402.17" width="2.34" height="2.33" fill="#fff"/>
<rect x="562.84" y="409.77" width="2.54" height="2.33" fill="#fff"/>
<rect x="566.38" y="409.77" width="2.34" height="2.33" fill="#fff"/>
<rect x="608.14" y="409.77" width="2.54" height="2.33" fill="#fff"/>
<rect x="611.68" y="409.77" width="2.34" height="2.33" fill="#fff"/>
<rect x="654.14" y="409.77" width="2.54" height="2.33" fill="#fff"/>
<rect x="657.68" y="409.77" width="2.34" height="2.33" fill="#fff"/>
<rect x="18.48" y="477.38" width="3.13" height="2.82" fill="#fff"/>
<rect x="23.51" y="477.38" width="2.73" height="2.82" fill="#fff"/>
<rect x="152.36" y="686.17" width="3.13" height="2.93" fill="#fff"/>
<rect x="157.40" y="686.17" width="2.73" height="2.93" fill="#fff"/>
<rect x="195.56" y="686.17" width="3.13" height="2.93" fill="#fff"/>
<rect x="200.60" y="686.17" width="2.73" height="2.93" fill="#fff"/>
<rect x="280.13" y="686.17" width="3.13" height="2.93" fill="#fff"/>
<rect x="285.17" y="686.17" width="2.73" height="2.93" fill="#fff"/>
<rect x="287.64" y="686.17" width="3.13" height="2.93" fill="#fff"/>
<rect x="292.68" y="686.17" width="2.73" height="2.93" fill="#fff"/>
<rect x="321.96" y="686.17" width="3.13" height="2.93" fill="#fff"/>
<rect x="327.00" y="686.17" width="2.73" height="2.93" fill="#fff"/>
<rect x="192.63" y="713.47" width="2.76" height="2.63" fill="#fff"/>
<rect x="197.06" y="713.47" width="2.40" height="2.63" fill="#fff"/>
<rect x="399.27" y="637.68" width="3.16" height="2.83" fill="#fff"/>
<rect x="404.35" y="637.68" width="2.75" height="2.83" fill="#fff"/>
<rect x="570.97" y="685.72" width="3.07" height="2.98" fill="#fff"/>
<rect x="575.91" y="685.72" width="2.67" height="2.98" fill="#fff"/>
<rect x="613.97" y="685.72" width="3.07" height="2.98" fill="#fff"/>
<rect x="618.91" y="685.72" width="2.67" height="2.98" fill="#fff"/>
<rect x="659.47" y="685.72" width="3.07" height="2.98" fill="#fff"/>
<rect x="664.41" y="685.72" width="2.67" height="2.98" fill="#fff"/>
<rect x="674.19" y="685.72" width="3.07" height="2.98" fill="#fff"/>
<rect x="679.12" y="685.72" width="2.67" height="2.98" fill="#fff"/>
<rect x="706.47" y="685.72" width="3.07" height="2.98" fill="#fff"/>
<rect x="711.41" y="685.72" width="2.67" height="2.98" fill="#fff"/>
</svg>
</body></html>
